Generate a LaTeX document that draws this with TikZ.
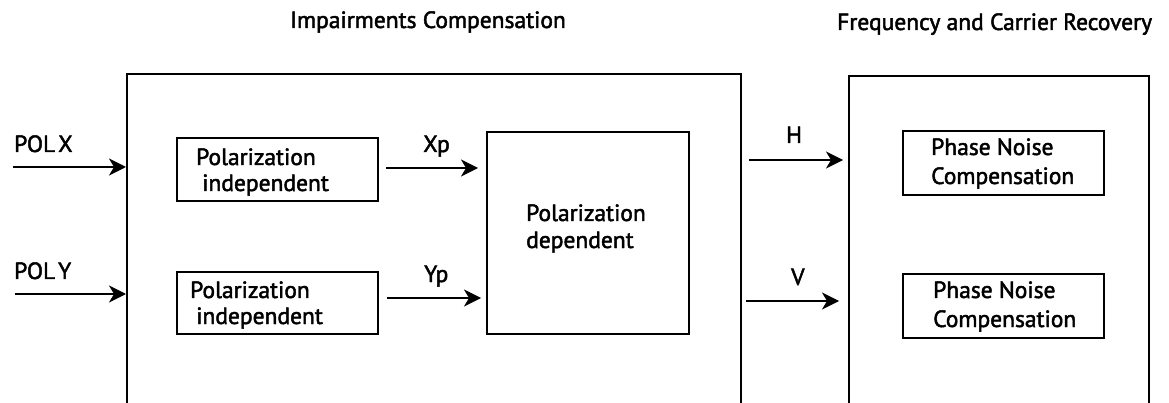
\documentclass[tikz,border=0pt]{standalone}
\usepackage{fontspec}
\setmainfont{PT Sans}[FakeBold=2]
\usetikzlibrary{arrows.meta}
\begin{document}
\begin{tikzpicture}[x=1pt,y=-1pt,
  box/.style={draw, line width=1.7pt, rectangle, inner sep=0pt, anchor=north west},
  txt/.style={anchor=base west, inner sep=0pt, font=\fontsize{23.5}{28}\selectfont},
  arr/.style={line width=1.7pt, -{Stealth[length=17pt, width=17pt, inset=5pt]}}]
\useasboundingbox (0,0) rectangle (1169,403);
% big boxes
\node[box, minimum width=614pt, minimum height=331pt] (ic) at (126,73) {};
\node[box, minimum width=300pt, minimum height=329pt] (fc) at (848,75) {};
% inner boxes
\node[box, minimum width=201pt, minimum height=63pt] (pi1) at (176,137) {};
\node[box, minimum width=201pt, minimum height=62pt] (pi2) at (176,271) {};
\node[box, minimum width=202pt, minimum height=202pt] (pd) at (486,131) {};
\node[box, minimum width=201pt, minimum height=64pt] (pn1) at (902,130) {};
\node[box, minimum width=201pt, minimum height=64pt] (pn2) at (902,273) {};
% titles
\node[txt] (t1) at (290,28) {Impairments Compensation};
\node[txt] (t2) at (837,30) {Frequency and Carrier Recovery};
% box texts
\node[txt] (pi1a) at (196,165) {Polarization};
\node[txt] (pi1b) at (202,191) {independent};
\node[txt] (pi2a) at (190,298) {Polarization};
\node[txt] (pi2b) at (196,324) {independent};
\node[txt] (pda) at (526,221) {Polarization};
\node[txt] (pdb) at (526,248) {dependent};
\node[txt] (pn1a) at (931,155) {Phase Noise};
\node[txt] (pn1b) at (931,184) {Compensation};
\node[txt] (pn2a) at (933,298) {Phase Noise};
\node[txt] (pn2b) at (933,327) {Compensation};
% signal labels
\node[txt] (lx) at (14,152) {POL\hspace{3pt}X};
\node[txt] (ly) at (14,279) {POL\hspace{3pt}Y};
\node[txt] (lxp) at (423,152) {Xp};
\node[txt] (lyp) at (424,282) {Yp};
\node[txt] (lh) at (786,143) {H};
\node[txt] (lv) at (791,285) {V};
% connectors
\coordinate (sx) at (13,167);
\coordinate (sy) at (15,294);
\coordinate (sxp) at (386,168);
\coordinate (syp) at (387,298);
\coordinate (sh) at (749,160);
\coordinate (sv) at (746,301);
\draw[arr] (sx) -- (sx -| ic.west);
\draw[arr] (sy) -- (sy -| ic.west);
\draw[arr, shorten >=8pt] (sxp) -- (sxp -| pd.west);
\draw[arr, shorten >=5pt] (syp) -- (syp -| pd.west);
\draw[arr, shorten >=5pt] (sh) -- (sh -| fc.west);
\draw[arr, shorten >=9pt] (sv) -- (sv -| fc.west);
\end{tikzpicture}
\end{document}
